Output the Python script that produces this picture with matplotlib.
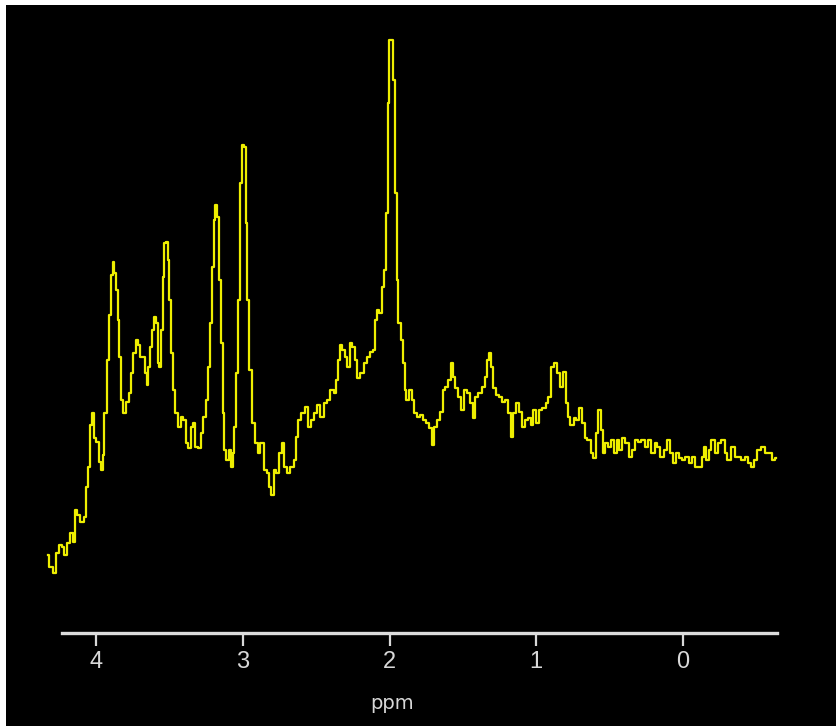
import matplotlib.pyplot as plt
from matplotlib.patches import Rectangle
from matplotlib import font_manager

# chemical shift (ppm) and signal intensity (arb. units)
ppm = [4.327, 4.313, 4.279, 4.266, 4.245, 4.225, 4.211, 4.191, 4.163, 4.157,
       4.136, 4.123, 4.095, 4.075, 4.061, 4.048, 4.034, 4.020, 4.007, 3.993,
       3.973, 3.959, 3.952, 3.939, 3.918, 3.904, 3.891, 3.884, 3.870, 3.857,
       3.850, 3.836, 3.823, 3.809, 3.789, 3.768, 3.755, 3.741, 3.720, 3.707,
       3.693, 3.680, 3.659, 3.652, 3.639, 3.625, 3.611, 3.598, 3.584, 3.577,
       3.564, 3.550, 3.543, 3.530, 3.516, 3.509, 3.496, 3.482, 3.475, 3.448,
       3.434, 3.414, 3.400, 3.380, 3.366, 3.346, 3.332, 3.318, 3.298, 3.278,
       3.264, 3.244, 3.230, 3.216, 3.203, 3.196, 3.182, 3.169, 3.155, 3.141,
       3.134, 3.121, 3.107, 3.087, 3.073, 3.066, 3.053, 3.039, 3.032, 3.012,
       3.005, 2.985, 2.978, 2.964, 2.950, 2.930, 2.903, 2.896, 2.869, 2.848,
       2.828, 2.814, 2.801, 2.780, 2.767, 2.746, 2.726, 2.712, 2.692, 2.664,
       2.644, 2.630, 2.617, 2.589, 2.562, 2.548, 2.528, 2.508, 2.487, 2.460,
       2.439, 2.419, 2.392, 2.371, 2.358, 2.344, 2.330, 2.317, 2.296, 2.283,
       2.262, 2.249, 2.228, 2.215, 2.187, 2.167, 2.146, 2.119, 2.106, 2.092,
       2.078, 2.065, 2.044, 2.031, 2.017, 2.010, 1.997, 1.983, 1.969, 1.956,
       1.949, 1.935, 1.915, 1.901, 1.894, 1.881, 1.860, 1.840, 1.826, 1.806,
       1.779, 1.765, 1.744, 1.724, 1.704, 1.690, 1.669, 1.642, 1.635, 1.608,
       1.595, 1.574, 1.567, 1.547, 1.526, 1.506, 1.485, 1.465, 1.438, 1.431,
       1.411, 1.383, 1.363, 1.342, 1.329, 1.315, 1.302, 1.288, 1.267, 1.247,
       1.227, 1.199, 1.186, 1.165, 1.152, 1.131, 1.111, 1.090, 1.070, 1.049,
       1.029, 1.009, 0.995, 0.974, 0.947, 0.927, 0.913, 0.893, 0.872, 0.852,
       0.825, 0.811, 0.790, 0.784, 0.756, 0.736, 0.716, 0.695, 0.681, 0.661,
       0.641, 0.620, 0.606, 0.586, 0.572, 0.552, 0.545, 0.525, 0.504, 0.477,
       0.463, 0.443, 0.423, 0.409, 0.382, 0.361, 0.341, 0.320, 0.300, 0.273,
       0.252, 0.232, 0.204, 0.184, 0.164, 0.143, 0.123, 0.102, 0.082, 0.061,
       0.041, 0.020, 0.000, -0.027, -0.048, -0.068, -0.095, -0.116, -0.136, -0.150,
       -0.164, -0.184, -0.204, -0.232, -0.245, -0.273, -0.293, -0.313, -0.341, -0.361,
       -0.381, -0.409, -0.429, -0.450, -0.477, -0.497, -0.518, -0.545, -0.572, -0.593,
       -0.613, -0.634]

intensity = [7.8, 6.6, 6.0, 8.0, 8.8, 8.6, 7.8, 9.0, 10.0, 9.1,
             12.3, 11.8, 11.1, 11.6, 14.6, 16.6, 20.8, 22.0, 19.5, 19.1,
             17.1, 16.3, 17.8, 22.0, 27.3, 31.8, 35.8, 37.1, 36.0, 34.3,
             31.3, 27.6, 23.3, 22.0, 23.1, 24.0, 26.0, 28.0, 29.3, 28.8,
             27.6, 27.6, 26.0, 24.8, 26.6, 28.6, 30.3, 31.6, 31.0, 27.0,
             26.6, 30.3, 35.6, 39.0, 39.1, 37.3, 33.3, 28.0, 24.3, 22.0,
             20.6, 21.6, 21.3, 19.0, 18.5, 20.6, 21.0, 18.6, 18.5, 20.0,
             21.6, 23.3, 26.6, 31.0, 36.6, 41.3, 42.8, 41.6, 35.3, 29.0,
             22.0, 18.3, 17.3, 18.3, 16.6, 18.0, 20.6, 26.0, 33.3, 45.0,
             48.8, 48.6, 41.0, 33.3, 26.3, 21.0, 19.0, 18.0, 19.0, 16.3,
             16.0, 14.6, 13.8, 16.3, 16.0, 18.0, 19.0, 16.6, 16.0, 16.6,
             17.3, 19.6, 21.3, 22.0, 22.6, 20.6, 21.3, 22.0, 22.8, 21.6,
             23.0, 23.3, 24.3, 24.0, 25.3, 27.3, 28.8, 28.3, 27.6, 26.6,
             29.0, 28.6, 27.3, 25.5, 26.0, 27.0, 27.6, 28.1, 28.3, 31.3,
             32.3, 32.0, 34.6, 36.3, 42.0, 53.0, 59.3, 59.3, 55.3, 44.0,
             35.3, 31.0, 29.3, 27.0, 24.3, 23.3, 24.3, 23.3, 22.0, 21.6,
             21.8, 21.3, 21.0, 20.5, 18.8, 20.6, 21.3, 22.1, 24.3, 24.6,
             25.3, 27.0, 25.6, 24.5, 23.6, 22.3, 24.3, 24.0, 23.0, 21.5,
             23.6, 24.0, 24.6, 25.6, 27.3, 28.0, 26.6, 24.5, 23.8, 23.6,
             23.1, 23.3, 22.0, 19.6, 22.0, 23.0, 22.1, 20.6, 21.3, 21.5,
             20.8, 22.3, 21.0, 22.3, 22.5, 23.0, 23.6, 26.6, 27.0, 26.0,
             24.6, 26.1, 23.0, 21.6, 20.8, 21.5, 21.3, 22.5, 21.0, 19.5,
             19.3, 18.0, 17.5, 20.0, 22.3, 20.3, 18.0, 19.0, 18.6, 19.3,
             18.0, 19.3, 18.3, 19.5, 19.0, 17.6, 18.3, 19.3, 19.1, 19.3,
             18.6, 19.3, 18.0, 19.0, 18.6, 17.6, 18.3, 19.3, 18.0, 17.0,
             18.0, 17.5, 17.3, 17.6, 17.0, 17.6, 16.6, 16.6, 17.6, 18.6,
             17.3, 18.3, 19.3, 18.0, 19.0, 19.3, 18.0, 17.3, 18.6, 17.6,
             17.6, 17.3, 17.6, 17.0, 16.6, 17.3, 18.3, 18.6, 18.0, 18.0,
             17.3, 17.5]

xticks = [4, 3, 2, 1, 0]

# narrow digits if the narrow face is there
names = {f.name for f in font_manager.fontManager.ttflist}
tick_font = 'Liberation Sans Narrow' if 'Liberation Sans Narrow' in names else 'Liberation Sans'

W, H = 837, 726
fig = plt.figure(figsize=(W / 100, H / 100), dpi=100)
fig.patch.set_facecolor('white')
# black panel (white strip left and top like the screenshot)
fig.patches.append(Rectangle((6 / W, 0), 1, 721 / H, transform=fig.transFigure,
                             facecolor='black', edgecolor='none', zorder=-10))

ax = fig.add_axes([40 / W, 93 / H, 750 / W, 628 / H])
ax.set_zorder(5)
ax.set_facecolor('none')
ax.plot(ppm, intensity, color='#eeee00', lw=1.6, drawstyle='steps-mid')

ax.set_xlim(4.382, -0.729)
ax.set_ylim(0, 62.8)

for s in ['top', 'right', 'left']:
    ax.spines[s].set_visible(False)
ax.spines['bottom'].set_color('#dcdcdc')
ax.spines['bottom'].set_linewidth(2.4)
ax.spines['bottom'].set_bounds(4.232, -0.641)
ax.set_yticks([])
ax.set_xticks(xticks)
ax.set_xticklabels([str(t) for t in xticks], family=tick_font)
ax.tick_params(axis='x', colors='#d8d8d8', length=9, width=1.6, labelsize=17, pad=4)
ax.set_xlabel('ppm', color='#d8d8d8', fontsize=14, labelpad=15)
ax.xaxis.label.set_x(0.469)

fig.savefig('out.png', dpi=100, facecolor=fig.get_facecolor())
